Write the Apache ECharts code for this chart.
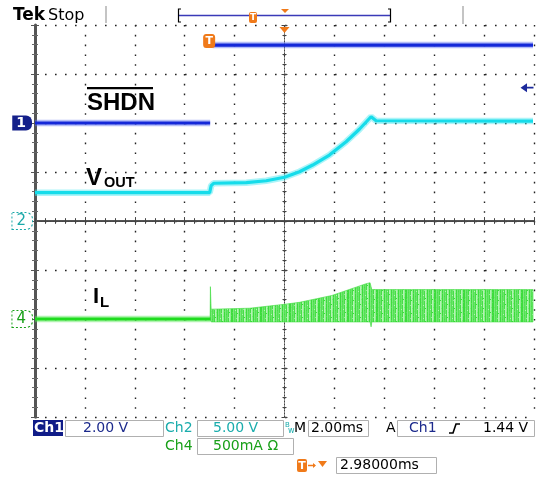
<!DOCTYPE html>
<html><head><meta charset="utf-8">
<script src="https://cdn.jsdelivr.net/npm/echarts@6/dist/echarts.min.js"></script>
<style>html,body{margin:0;padding:0;background:#fff}#c{width:539px;height:478px}</style>
</head><body><div id="c"></div>
<script>
// ---- Data (time in ms from left edge of screen, 2 ms/div) ----
const ch1Time  = [0, 7.02, 7.06, 7.12, 19.96];
const ch1Volts = [0, 0, null, 3.18, 3.18];            // SHDN, 2 V/div

const ch2Time  = [0, 7.0, 7.06, 7.16, 8.47, 9.27, 10.0, 10.6, 11.13, 11.8, 12.47, 13.0, 13.47, 13.67, 19.96];
const ch2Volts = [2.89, 2.89, 3.6, 3.85, 3.91, 4.11, 4.46, 5.03, 5.71, 6.73, 8.09, 9.36, 10.64, 10.23, 10.2]; // VOUT, 5 V/div

const ch4Time  = [0, 7.03];
const ch4Amps  = [0, 0];                               // IL before start, 500 mA/div

const ilBandTime  = [7.02, 7.03, 7.06, 8.6, 10.0, 10.6, 11.9, 13.27, 13.43, 13.47, 13.5, 13.53, 19.96];
const ilBandUpper = [0.02, 0.33, 0.10, 0.11, 0.15, 0.17, 0.24, 0.36, 0.37, 0.33, 0.30, 0.30, 0.30];
const ilBandLower = [-0.01, -0.01, -0.03, -0.03, -0.03, -0.03, -0.03, -0.03, -0.03, -0.08, -0.03, -0.03, -0.03];

const triggerTime = 6.98;
const triggerLevel = 1.44;

const chart = echarts.init(document.getElementById('c'));
const F = '"DejaVu Sans", Verdana, sans-serif';
const A = '"Liberation Sans", Arial, sans-serif';
const gridRect = {left: 35, top: 25, width: 499, height: 392};

const pair = (ts, vs) => ts.map((t, i) => [t, vs[i] === null ? '-' : vs[i]]);

// texture for the switching-current band (style only): vertical streaks
const tex = document.createElement('canvas');
tex.width = 29; tex.height = 23;
(function () {
  const c = tex.getContext('2d');
  const shades = ['#3cdc3c', '#6ae66a', '#92ee92', '#54e254', '#b4f4b4', '#7ae87a', '#46de46'];
  for (let x = 0; x < 29; x++) for (let y = 0; y < 23; y++) {
    const k = ((x * 5) % 7 + ((x * 3 + y * 11) % 13 === 0 ? 3 : 0)) % 7;
    c.fillStyle = shades[k];
    c.fillRect(x, y, 1, 1);
  }
})();

function borderX(pos) {
  return {gridIndex: 0, type: 'value', position: pos, min: 0, max: 20, interval: 2,
    axisLine: {show: true, lineStyle: {color: '#555', width: 2}},
    axisTick: {show: true, inside: true, length: 4, lineStyle: {color: '#555'}},
    minorTick: {show: true, splitNumber: 5, length: 3, lineStyle: {color: '#666'}},
    splitLine: {show: pos === 'bottom', lineStyle: {color: '#222', width: 1.4, type: [1.6, 8.2]}},
    axisLabel: {show: false}};
}
function borderY(pos, w) {
  return {gridIndex: 0, type: 'value', position: pos, min: -4, max: 4, interval: 1,
    axisLine: {show: true, lineStyle: {color: '#555', width: w}},
    axisTick: {show: true, inside: true, length: 4, lineStyle: {color: '#555'}},
    minorTick: {show: true, splitNumber: 5, length: 3, lineStyle: {color: '#666'}},
    splitLine: {show: pos === 'left', lineStyle: {color: '#222', width: 1.4, type: [1.6, 8.4]}},
    axisLabel: {show: false}};
}
function centerX(g, inside) {
  return {gridIndex: g, type: 'value', position: 'bottom', min: -5, max: 5, interval: 1,
    axisLine: {show: true, onZero: true, lineStyle: {color: '#444', width: 1, type: [1, 2]}},
    axisTick: {show: true, inside: inside, length: 3, lineStyle: {color: '#444'}},
    minorTick: {show: true, splitNumber: 5, length: 2, lineStyle: {color: '#444'}},
    splitLine: {show: false}, axisLabel: {show: false}};
}
function centerY(g, inside) {
  return {gridIndex: g, type: 'value', position: 'left', min: -4, max: 4, interval: 1,
    axisLine: {show: true, onZero: true, lineStyle: {color: '#444', width: 1, type: [1, 2]}},
    axisTick: {show: true, inside: inside, length: 3, lineStyle: {color: '#444'}},
    minorTick: {show: true, splitNumber: 5, length: 2, lineStyle: {color: '#444'}},
    splitLine: {show: false}, axisLabel: {show: false}};
}
function chanY(min, max, interval, mark) {
  return {gridIndex: 0, type: 'value', position: 'left', min: min, max: max, interval: interval,
    axisLine: {show: false}, axisTick: {show: false}, splitLine: {show: false},
    axisLabel: {show: true, margin: 3, formatter: v => Math.abs(v) < 1e-9 ? '{' + mark + '|' + mark + '}' : '',
      rich: {
        '1': {color: '#fff', backgroundColor: '#14208a', fontFamily: F, fontWeight: 'bold', fontSize: 14, padding: [1, 6, 0, 4], borderRadius: [0, 6, 6, 0]},
        '2': {color: '#1aa8a8', backgroundColor: '#fff', borderColor: '#1aa8a8', borderWidth: 1, borderType: 'dotted', fontFamily: F, fontSize: 15, padding: [1, 6, 0, 4], borderRadius: [0, 6, 6, 0]},
        '4': {color: '#18a018', backgroundColor: '#fff', borderColor: '#18a018', borderWidth: 1, borderType: 'dotted', fontFamily: F, fontSize: 15, padding: [1, 6, 0, 4], borderRadius: [0, 6, 6, 0]}
      }}};
}

const txt = (x, y, s, o) => ({type: 'text', x: x, y: y, silent: true,
  style: Object.assign({text: s, fontFamily: F, fontSize: 14, fill: '#000', verticalAlign: 'middle', align: 'left'}, o || {})});
const box = (x, y, w, h, fill, stroke) => ({type: 'rect', shape: {x: x, y: y, width: w, height: h}, silent: true,
  style: {fill: fill, stroke: stroke || null, lineWidth: 1}});
const orange = '#f07a1a';

const graphics = [
  // header
  txt(13, 16, 'Tek', {fontWeight: 'bold', fontSize: 17, letterSpacing: -1.5}),
  txt(48, 16, 'Stop', {fontSize: 16}),
  {type: 'line', shape: {x1: 106, y1: 6, x2: 106, y2: 23}, style: {stroke: '#c4c4c4', lineWidth: 2}},
  {type: 'line', shape: {x1: 463, y1: 6, x2: 463, y2: 24}, style: {stroke: '#c4c4c4', lineWidth: 2}},
  {type: 'line', shape: {x1: 178, y1: 15.5, x2: 391, y2: 15.5}, style: {stroke: '#3a3ab8', lineWidth: 1.5}},
  {type: 'polyline', shape: {points: [[181, 9], [178.5, 9], [178.5, 22], [181, 22]]}, style: {stroke: '#000', lineWidth: 1.2, fill: null}},
  {type: 'polyline', shape: {points: [[388, 9], [390.5, 9], [390.5, 22], [388, 22]]}, style: {stroke: '#000', lineWidth: 1.2, fill: null}},
  {type: 'rect', shape: {x: 249, y: 12, width: 8, height: 11, r: 2}, style: {fill: orange}},
  txt(253, 17.5, 'T', {fill: '#fff', fontSize: 9, fontWeight: 'bold', align: 'center'}),
  {type: 'polygon', shape: {points: [[281, 9], [289, 9], [285, 13]]}, style: {fill: orange}},
  // trace labels
  txt(87, 103.5, 'SHDN', {fontFamily: A, fontWeight: 'bold', fontSize: 24}),
  box(87, 87, 66, 2.2, '#000'),
  txt(86, 178.5, 'V', {fontFamily: A, fontWeight: 'bold', fontSize: 24}),
  txt(104, 182.5, 'OUT', {fontFamily: A, fontWeight: 'bold', fontSize: 14.5}),
  txt(93, 297, 'I', {fontFamily: A, fontWeight: 'bold', fontSize: 22}),
  txt(100, 302.5, 'L', {fontFamily: A, fontWeight: 'bold', fontSize: 15}),
  // status bar row 1
  box(33, 420, 30, 16, '#101c88'),
  txt(34, 428.5, 'Ch1', {fill: '#fff', fontWeight: 'bold'}),
  box(65.5, 420.5, 98, 16, '#fff', '#b0b0b0'),
  txt(83, 428.5, '2.00 V', {fill: '#1c2a8c'}),
  txt(165, 428.5, 'Ch2', {fill: '#1aacac'}),
  box(197.5, 420.5, 86, 16, '#fff', '#b0b0b0'),
  txt(213, 428.5, '5.00 V', {fill: '#1aacac'}),
  txt(285, 425, 'B', {fill: '#1aacac', fontSize: 7}),
  txt(288, 431, 'w', {fill: '#1aacac', fontSize: 8}),
  txt(294, 428.5, 'M'),
  box(308.5, 420.5, 60, 16, '#fff', '#b0b0b0'),
  txt(311, 428.5, '2.00ms'),
  txt(386, 428.5, 'A'),
  box(397.5, 420.5, 137, 16, '#fff', '#b0b0b0'),
  txt(409, 428.5, 'Ch1', {fill: '#1c2a8c'}),
  {type: 'polyline', shape: {points: [[449, 433], [453, 433], [456, 424], [460, 424]]}, style: {stroke: '#000', lineWidth: 1.6, fill: null}},
  txt(483, 428.5, '1.44 V'),
  // row 2
  txt(165, 446.5, 'Ch4', {fill: '#18a018'}),
  box(197.5, 438.5, 96, 16, '#fff', '#b0b0b0'),
  txt(213, 446.5, '500mA Ω', {fill: '#18a018'}),
  // row 3
  {type: 'rect', shape: {x: 297, y: 459, width: 10, height: 13, r: 2}, style: {fill: orange}},
  txt(302, 466, 'T', {fill: '#fff', fontSize: 11, fontWeight: 'bold', align: 'center'}),
  {type: 'line', shape: {x1: 308, y1: 465.5, x2: 315, y2: 465.5}, style: {stroke: orange, lineWidth: 1.5}},
  {type: 'polygon', shape: {points: [[313, 463], [316, 465.5], [313, 468]]}, style: {fill: orange}},
  {type: 'polygon', shape: {points: [[318, 461], [327, 461], [322.5, 467]]}, style: {fill: orange}},
  box(336.5, 457.5, 100, 16, '#fff', '#b0b0b0'),
  txt(340, 465.5, '2.98000ms')
];

function trace(name, data, yIdx, core, halo) {
  return [
    {name: name + 'halo', type: 'line', xAxisIndex: 0, yAxisIndex: yIdx, data: data, symbol: 'none', silent: true,
      lineStyle: {color: halo, width: 6.5}, z: 3, animation: false},
    {name: name, type: 'line', xAxisIndex: 0, yAxisIndex: yIdx, data: data, symbol: 'none', silent: true,
      lineStyle: {color: core, width: 3.2}, z: 4, animation: false}
  ];
}

const series = [].concat(
  trace('SHDN', pair(ch1Time, ch1Volts), 2, '#1428d8', 'rgba(90,110,240,0.45)'),
  trace('VOUT', pair(ch2Time, ch2Volts), 3, '#16dcea', 'rgba(70,230,240,0.45)'),
  trace('IL', pair(ch4Time, ch4Amps), 4, '#1edc1e', 'rgba(80,230,80,0.45)'),
  [{
    name: 'ILband', type: 'custom', xAxisIndex: 0, yAxisIndex: 4, silent: true, animation: false, z: 3,
    data: [[ilBandTime[0], ilBandLower[0]]],
    renderItem: function (params, api) {
      const pts = [];
      for (let i = 0; i < ilBandTime.length; i++) pts.push(api.coord([ilBandTime[i], ilBandUpper[i]]));
      for (let i = ilBandTime.length - 1; i >= 0; i--) pts.push(api.coord([ilBandTime[i], ilBandLower[i]]));
      return {type: 'polygon', shape: {points: pts},
        style: {fill: {image: tex, repeat: 'repeat'}, stroke: 'rgba(60,220,60,0.6)', lineWidth: 1}};
    }
  },
  {
    name: 'markers', type: 'line', xAxisIndex: 0, yAxisIndex: 2, data: [], symbol: 'none', silent: true, animation: false, z: 6,
    markPoint: {
      silent: true, animation: false,
      data: [
        {coord: [triggerTime, 3.35], symbol: 'roundRect', symbolSize: [12, 14], itemStyle: {color: orange},
          label: {show: true, formatter: 'T', color: '#fff', fontWeight: 'bold', fontSize: 11, fontFamily: F}},
        {coord: [10, 3.8], symbol: 'triangle', symbolRotate: 180, symbolSize: [10, 6], itemStyle: {color: orange}, label: {show: false}},
        {coord: [19.72, triggerLevel], symbol: 'path://M0,5 L8,0 L8,4 L16,4 L16,6 L8,6 L8,10 Z', symbolSize: [13, 9],
          itemStyle: {color: '#1c2a9c'}, label: {show: false}}
      ]
    }
  }]
);

chart.setOption({
  backgroundColor: '#fff',
  animation: false,
  grid: [Object.assign({}, gridRect), Object.assign({}, gridRect), Object.assign({}, gridRect)],
  xAxis: [borderX('bottom'), borderX('top'), centerX(1, true), centerX(2, false)],
  yAxis: [borderY('left', 3), borderY('right', 1),
    chanY(-12, 4, 2, '1'), chanY(-20, 20, 5, '2'), chanY(-1, 3, 0.5, '4'),
    centerY(1, true), centerY(2, false)],
  series: series,
  graphic: graphics
});
</script></body></html>
